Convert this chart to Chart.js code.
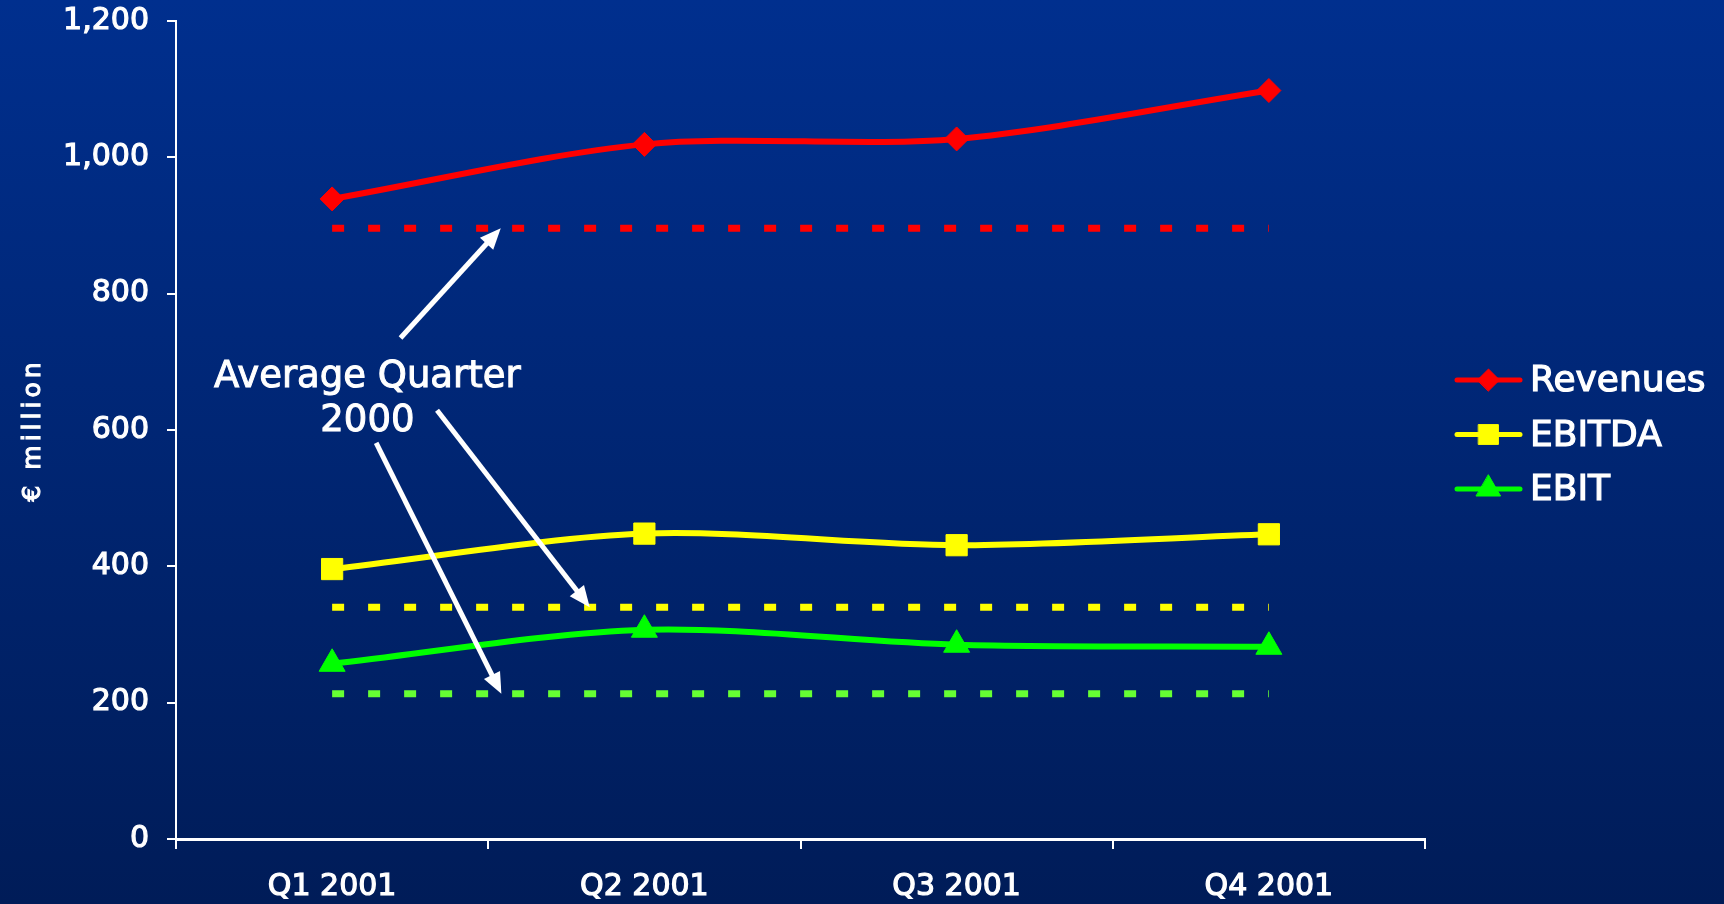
<!doctype html>
<html lang="en">
<head>
  <meta charset="utf-8">
  <title>Quarterly results 2001</title>
  <style>
    * { margin: 0; padding: 0; }
    body { width: 1724px; height: 904px; overflow: hidden; background: #001c5a; }
    canvas { display: block; }
  </style>
</head>
<body>
  <canvas id="myChart" width="1724" height="904"></canvas>
  <script src="https://cdn.jsdelivr.net/npm/chart.js/dist/chart.umd.min.js"></script>
  <script>
    // data
    const quarters = ['Q1 2001', 'Q2 2001', 'Q3 2001', 'Q4 2001'];
    const revenues = [939, 1019, 1027, 1098];
    const ebitda = [396, 448, 431, 447];
    const ebit = [257, 307, 285, 282];
    const avgRevenues2000 = [896, 896, 896, 896];
    const avgEbitda2000 = [340, 340, 340, 340];
    const avgEbit2000 = [213, 213, 213, 213];
    const yMin = 0, yMax = 1200, yStep = 200;
    const yTitle = '€ million';

    const FONT = '"DejaVu Sans", Verdana, sans-serif';

    const solid = (label, data, color, pointStyle, radius) => ({
      label, data,
      borderColor: color,
      backgroundColor: color,
      borderWidth: 6,
      tension: 0.3,
      pointStyle,
      pointRadius: radius,
      pointBorderWidth: 1,
      pointBorderColor: color,
      pointBackgroundColor: color,
      inLegend: true
    });

    const dotted = (label, data, color) => ({
      label, data,
      borderColor: color,
      borderWidth: 7,
      borderCapStyle: 'butt',
      borderDash: [12, 24],
      tension: 0,
      pointRadius: 0,
      inLegend: false
    });

    const data = {
      labels: quarters,
      datasets: [
        dotted('Revenues avg 2000', avgRevenues2000, '#ff0000'),
        dotted('EBITDA avg 2000', avgEbitda2000, '#ffff00'),
        dotted('EBIT avg 2000', avgEbit2000, '#66ff33'),
        solid('Revenues', revenues, '#ff0000', 'rectRot', 12),
        solid('EBITDA', ebitda, '#ffff00', 'rect', 15),
        solid('EBIT', ebit, '#00ff00', 'triangle', 15)
      ]
    };

    // background gradient
    const background = {
      id: 'background',
      beforeDraw(chart) {
        const { ctx, width, height } = chart;
        const g = ctx.createLinearGradient(0, 0, 0, height);
        g.addColorStop(0, '#002f8e');
        g.addColorStop(1, '#001c58');
        ctx.save();
        ctx.fillStyle = g;
        ctx.fillRect(0, 0, width, height);
        ctx.restore();
      }
    };

    const heavyText = (ctx, text, x, y, w) => {
      ctx.lineWidth = w;
      ctx.strokeText(text, x, y);
      ctx.fillText(text, x, y);
    };

    // "Average Quarter 2000" note with arrows, placed in data units
    const notes = {
      id: 'notes',
      afterDatasetsDraw(chart) {
        const { ctx, scales: { x, y } } = chart;
        const px = (i, v) => [x.getPixelForValue(i), y.getPixelForValue(v)];

        ctx.save();
        ctx.fillStyle = '#ffffff';
        ctx.strokeStyle = '#ffffff';
        ctx.font = '37px ' + FONT;
        ctx.textAlign = 'center';
        ctx.textBaseline = 'middle';
        let [tx, ty] = px(0.113, 677);
        heavyText(ctx, 'Average Quarter', tx, ty, 1);
        [tx, ty] = px(0.113, 612);
        heavyText(ctx, '2000', tx, ty, 1);

        const arrows = [
          [[0.219, 735], [0.54, 896]],
          [[0.336, 629], [0.825, 340]],
          [[0.141, 581], [0.542, 213]]
        ];
        ctx.lineWidth = 5;
        arrows.forEach(([from, to]) => {
          const [x0, y0] = px(from[0], from[1]);
          const [x1, y1] = px(to[0], to[1]);
          const a = Math.atan2(y1 - y0, x1 - x0);
          const len = 21, half = 9;
          const bx = x1 - Math.cos(a) * len, by = y1 - Math.sin(a) * len;
          ctx.beginPath();
          ctx.moveTo(x0, y0);
          ctx.lineTo(bx + Math.cos(a) * 2, by + Math.sin(a) * 2);
          ctx.stroke();
          ctx.beginPath();
          ctx.moveTo(x1, y1);
          ctx.lineTo(bx - Math.sin(a) * half, by + Math.cos(a) * half);
          ctx.lineTo(bx + Math.sin(a) * half, by - Math.cos(a) * half);
          ctx.closePath();
          ctx.fill();
        });
        ctx.restore();
      }
    };

    // rotated, letter-spaced axis title
    const axisTitle = {
      id: 'axisTitle',
      afterDraw(chart) {
        const { ctx, scales: { y } } = chart;
        ctx.save();
        ctx.translate(33, (y.top + y.bottom) / 2);
        ctx.rotate(-Math.PI / 2);
        ctx.font = '25px ' + FONT;
        ctx.fillStyle = '#ffffff';
        ctx.strokeStyle = '#ffffff';
        ctx.textBaseline = 'middle';
        ctx.textAlign = 'left';
        ctx.letterSpacing = '4px';
        const w = ctx.measureText(yTitle).width;
        heavyText(ctx, yTitle, -w / 2, 0, 1.1);
        ctx.restore();
      }
    };

    // legend: line + marker, to the right of the plot
    const sideLegend = {
      id: 'sideLegend',
      afterDraw(chart) {
        const { ctx, chartArea } = chart;
        const items = chart.data.datasets.filter(d => d.inLegend);
        const lx = chartArea.right + 32, lineLen = 63;
        const top = 380, gap = 54.5;
        ctx.save();
        ctx.font = '36px ' + FONT;
        ctx.textBaseline = 'middle';
        items.forEach((d, i) => {
          const cy = top + i * gap;
          ctx.strokeStyle = d.borderColor;
          ctx.lineWidth = 5;
          ctx.lineCap = 'round';
          ctx.beginPath();
          ctx.moveTo(lx, cy);
          ctx.lineTo(lx + lineLen, cy);
          ctx.stroke();
          ctx.fillStyle = d.borderColor;
          ctx.lineWidth = 1;
          Chart.helpers.drawPoint(ctx, {
            pointStyle: d.pointStyle, radius: d.pointRadius - 1, rotation: 0, borderWidth: 1
          }, lx + lineLen / 2, cy);
          ctx.fillStyle = '#ffffff';
          ctx.strokeStyle = '#ffffff';
          ctx.lineCap = 'butt';
          heavyText(ctx, d.label, lx + lineLen + 10, cy + 2, 1.2);
        });
        ctx.restore();
      }
    };

    const tickFont = { family: FONT, size: 30 };

    const config = {
      type: 'line',
      data,
      options: {
        responsive: false,
        animation: false,
        devicePixelRatio: 1,
        layout: { padding: { left: 0, top: 21, right: 299, bottom: 0 } },
        plugins: {
          legend: { display: false },
          tooltip: { enabled: false }
        },
        scales: {
          x: {
            offset: true,
            afterFit(scale) {
              scale.height = 65;
              scale.paddingLeft = 0;
              scale.paddingRight = 0;
            },
            grid: {
              offset: true,
              drawOnChartArea: false,
              color: '#ffffff',
              lineWidth: 2,
              tickLength: 10
            },
            border: { color: '#ffffff', width: 3 },
            ticks: {
              color: '#ffffff',
              font: tickFont,
              textStrokeColor: '#ffffff',
              textStrokeWidth: 1.2,
              padding: 20,
              maxRotation: 0
            }
          },
          y: {
            min: yMin,
            max: yMax,
            afterFit(scale) {
              scale.width = 176;
              scale.paddingTop = 0;
              scale.paddingBottom = 0;
            },
            grid: {
              drawOnChartArea: false,
              color: '#ffffff',
              lineWidth: 2,
              tickLength: 9
            },
            border: { color: '#ffffff', width: 2 },
            ticks: {
              stepSize: yStep,
              color: '#ffffff',
              font: tickFont,
              textStrokeColor: '#ffffff',
              textStrokeWidth: 1.2,
              padding: 18
            }
          }
        }
      },
      plugins: [background, notes, axisTitle, sideLegend]
    };

    const myChart = new Chart(document.getElementById('myChart'), config);
  </script>
</body>
</html>
